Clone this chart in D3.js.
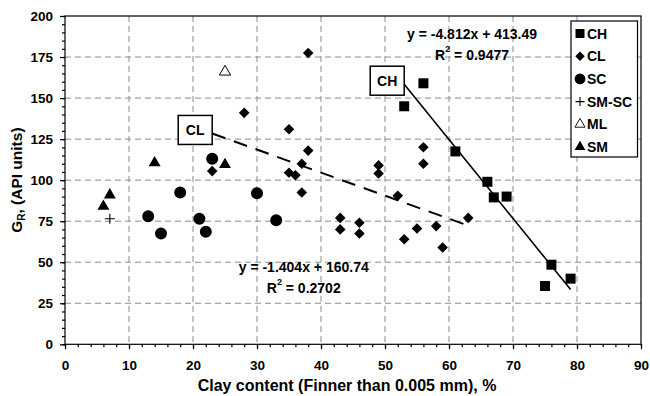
<!DOCTYPE html>
<html>
<head>
<meta charset="utf-8">
<script src="https://cdn.jsdelivr.net/npm/d3@7"></script>
<style>
  html, body { margin: 0; padding: 0; background: #fff; }
  svg { display: block; font-family: "Liberation Sans", Arial, sans-serif; font-weight: bold; }
</style>
</head>
<body>
<svg id="chart" width="650" height="396"></svg>
<script>
// Gamma-ray response vs. clay content, grouped by soil class
const chPoints   = [[53,145],[56,159],[61,117.5],[66,99],[67,89.5],[69,90],[75,35.5],[76,48.5],[79,40]];
const clPoints   = [[23,105.5],[28,141],[35,131],[35,104.5],[36,103],[37,110],[37,92.5],[38,118],[38,177.5],
                    [43,77],[43,70],[46,74],[46,67.5],[49,109],[49,104],[52,90.5],[53,64],[55,70.5],
                    [56,120],[56,110],[58,72],[59,59],[63,77]];
const scPoints   = [[13,78],[15,67.5],[18,92.5],[21,76.5],[22,68.5],[23,113],[30,92],[33,75.5]];
const smscPoints = [[7,76.5]];
const mlPoints   = [[25,166]];
const smPoints   = [[6,84],[7,91],[14,110.5],[25,109.5]];

// Linear fits: [slope, intercept, R²]
const chFit = [-4.812, 413.49, 0.9477];
const clFit = [-1.404, 160.74, 0.2702];

const legendLabels = ["CH", "CL", "SC", "SM-SC", "ML", "SM"];
const xTicks = d3.range(0, 91, 10);
const yTicks = d3.range(0, 201, 25);
const xTitle = "Clay content (Finner than 0.005 mm), %";

const svg = d3.select("#chart");
const W = 650, H = 396;
const plot = { left: 65, right: 641, top: 16, bottom: 344.3 };

const x = d3.scaleLinear().domain([0, 90]).range([plot.left, plot.right]);
const y = d3.scaleLinear().domain([0, 200]).range([plot.bottom, plot.top]);

svg.append("rect").attr("width", W).attr("height", H).attr("fill", "#fff");

// dashed grid
const grid = svg.append("g").attr("stroke", "#8c8c8c").attr("stroke-width", 1).attr("stroke-dasharray", "6,4");
xTicks.filter(v => v > 0 && v < 90).forEach(v => {
  grid.append("line").attr("x1", x(v)).attr("x2", x(v)).attr("y1", plot.top).attr("y2", plot.bottom);
});
yTicks.filter(v => v > 0 && v < 200).forEach(v => {
  grid.append("line").attr("x1", plot.left).attr("x2", plot.right).attr("y1", y(v)).attr("y2", y(v));
});

// frame
svg.append("rect")
  .attr("x", plot.left).attr("y", plot.top)
  .attr("width", plot.right - plot.left).attr("height", plot.bottom - plot.top)
  .attr("fill", "none").attr("stroke", "#000").attr("stroke-width", 1.2);

// axes
function styleAxis(g) {
  g.select(".domain").remove();
  g.selectAll(".tick line").attr("stroke", "#000").attr("stroke-width", 1.2);
  g.selectAll(".tick text").attr("fill", "#000").attr("font-size", 13.5).attr("font-weight", "bold")
    .attr("font-family", '"Liberation Sans", Arial, sans-serif');
}
svg.append("g").attr("transform", `translate(0,${plot.bottom})`)
  .call(d3.axisBottom(x).tickValues(d3.range(0, 91, 2)).tickSize(3).tickFormat(""))
  .call(styleAxis);
svg.append("g").attr("transform", `translate(0,${plot.bottom})`)
  .call(d3.axisBottom(x).tickValues(xTicks).tickSize(5).tickPadding(11).tickFormat(d3.format("d")))
  .call(styleAxis);
svg.append("g").attr("transform", `translate(${plot.left},0)`)
  .call(d3.axisLeft(y).tickValues(d3.range(0, 201, 5)).tickSize(3).tickFormat(""))
  .call(styleAxis);
svg.append("g").attr("transform", `translate(${plot.left},0)`)
  .call(d3.axisLeft(y).tickValues(yTicks).tickSize(5).tickPadding(7).tickFormat(d3.format("d")))
  .call(styleAxis);

// axis titles
svg.append("text")
  .attr("x", 347).attr("y", 391)
  .attr("text-anchor", "middle").attr("font-size", 16).attr("font-weight", "bold")
  .text(xTitle);

const yTitle = svg.append("text")
  .attr("transform", `translate(22,${(plot.top + plot.bottom) / 2}) rotate(-90)`)
  .attr("text-anchor", "middle").attr("font-size", 15.5).attr("font-weight", "bold");
yTitle.append("tspan").text("G");
yTitle.append("tspan").attr("font-size", 10).attr("dy", 3).text("R");
yTitle.append("tspan").attr("dy", -3).text(", (API units)");

// marker shapes
const sym = {
  CH: d3.symbol(d3.symbolSquare, 100),
  CL: d3.symbol(d3.symbolSquare, 56),
  SC: d3.symbol(d3.symbolCircle, 113),
  ML: d3.symbol(d3.symbolTriangle, 55),
  SM: d3.symbol(d3.symbolTriangle, 62)
};
function drawMarker(g, type, cx, cy, scale = 1) {
  if (type === "SM-SC") {
    const s = 5 * scale;
    g.append("path")
      .attr("d", `M${cx - s},${cy}H${cx + s}M${cx},${cy - s}V${cy + s}`)
      .attr("stroke", "#000").attr("stroke-width", 1.1).attr("fill", "none");
    return;
  }
  const p = g.append("path").attr("d", sym[type]())
    .attr("transform", `translate(${cx},${cy}) scale(${scale})` + (type === "CL" ? " rotate(45)" : ""));
  if (type === "ML") p.attr("fill", "#fff").attr("stroke", "#000").attr("stroke-width", 1);
  else p.attr("fill", "#000");
}

// trend lines (behind markers)
function trend(points, fit, dash) {
  const ext = d3.extent(points, d => d[0]);
  const f = v => fit[0] * v + fit[1];
  svg.append("line")
    .attr("x1", x(ext[0])).attr("y1", y(f(ext[0])))
    .attr("x2", x(ext[1])).attr("y2", y(f(ext[1])))
    .attr("stroke", "#000").attr("stroke-width", dash ? 2 : 1.6)
    .attr("stroke-dasharray", dash ? "14,9" : null);
  return [x(ext[0]), y(f(ext[0]))];
}
const chStart = trend(chPoints, chFit, false);
const clStart = trend(clPoints, clFit, true);

// data markers
const series = [
  ["CH", chPoints], ["CL", clPoints], ["SC", scPoints],
  ["SM-SC", smscPoints], ["ML", mlPoints], ["SM", smPoints]
];
const mg = svg.append("g");
series.forEach(([type, pts]) => pts.forEach(d => drawMarker(mg, type, x(d[0]), y(d[1]))));

// callout boxes at the start of each fit line
function callout(label, start) {
  const w = 34, h = 29;
  svg.append("rect")
    .attr("x", start[0] - w).attr("y", start[1] - 18).attr("width", w).attr("height", h)
    .attr("fill", "#fff").attr("stroke", "#000").attr("stroke-width", 1.5);
  svg.append("text")
    .attr("x", start[0] - w / 2).attr("y", start[1] - 18 + h / 2)
    .attr("text-anchor", "middle").attr("dominant-baseline", "central")
    .attr("font-size", 14).attr("font-weight", "bold").text(label);
}
callout("CH", chStart);
callout("CL", clStart);

// fit equations
function equation(fit, xv, yv) {
  const cx = x(xv), cy = y(yv);
  const sign = fit[1] >= 0 ? "+" : "-";
  svg.append("text")
    .attr("x", cx).attr("y", cy).attr("text-anchor", "middle").attr("dominant-baseline", "central")
    .attr("font-size", 14).attr("font-weight", "bold")
    .text(`y = ${fit[0]}x ${sign} ${Math.abs(fit[1])}`);
  const r = svg.append("text")
    .attr("x", cx).attr("y", cy + 21).attr("text-anchor", "middle").attr("dominant-baseline", "central")
    .attr("font-size", 14).attr("font-weight", "bold");
  r.append("tspan").text("R");
  r.append("tspan").attr("font-size", 9).attr("dy", -6).text("2");
  r.append("tspan").attr("dy", 6).text(` = ${fit[2]}`);
}
equation(chFit, 63.6, 189.2);
equation(clFit, 37.3, 47.1);

// legend
const lg = svg.append("g");
lg.append("rect").attr("x", 571).attr("y", 21).attr("width", 66.5).attr("height", 136)
  .attr("fill", "#fff").attr("stroke", "#000").attr("stroke-width", 1.2);
legendLabels.forEach((lab, i) => {
  const cy = 33.5 + i * 22.7;
  drawMarker(lg, lab, 580, cy, 0.9);
  lg.append("text").attr("x", 587).attr("y", cy).attr("dominant-baseline", "central")
    .attr("font-size", 14).attr("font-weight", "bold").text(lab);
});
</script>
</body>
</html>
